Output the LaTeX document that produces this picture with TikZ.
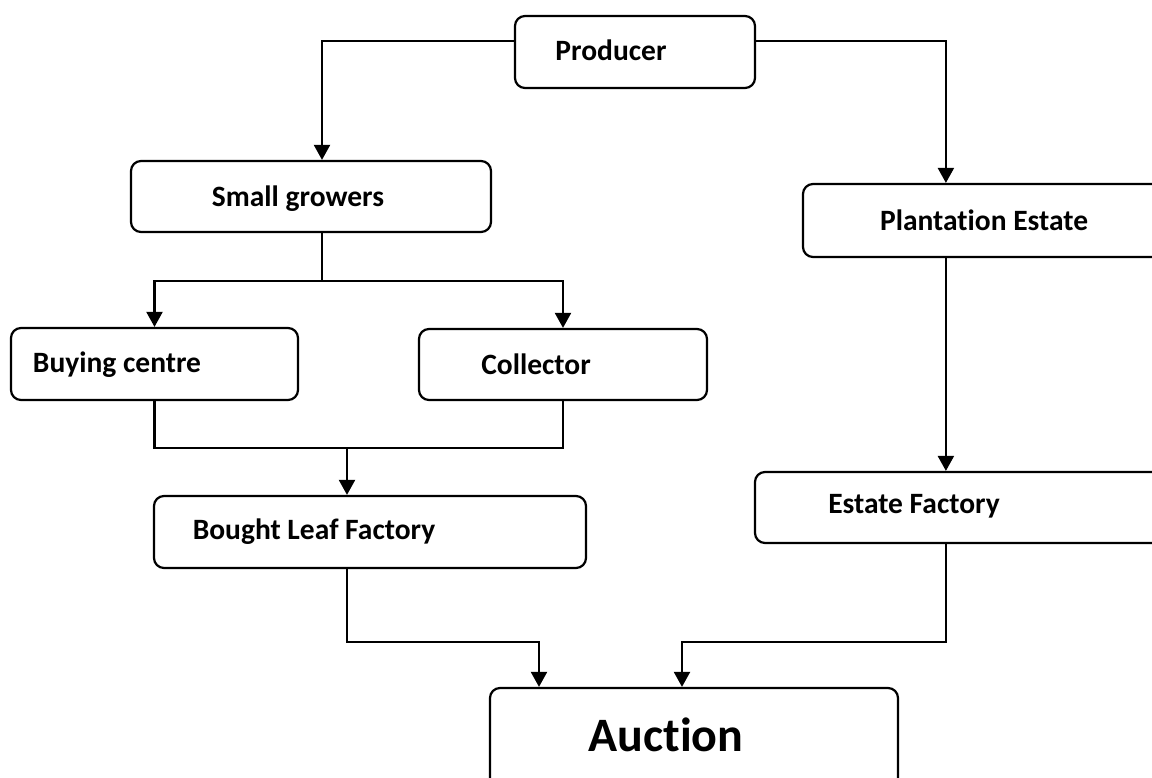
\documentclass[tikz,border=0pt]{standalone}
\usepackage{fontspec}
\setmainfont{Carlito}[Ligatures=NoCommon]
\usetikzlibrary{arrows.meta}
\begin{document}
\begin{tikzpicture}[x=1pt,y=-1pt,
  box/.style={draw=black,line width=2.2pt,rounded corners=10pt,inner sep=0pt,fill=white},
  lbl/.style={font=\fontsize{29.5}{34}\selectfont\bfseries,inner sep=0pt},
  biglbl/.style={font=\fontsize{48}{54}\selectfont\bfseries,inner sep=0pt},
  conn/.style={line width=2.2pt},
  arr/.style={conn,-{Triangle[length=15pt,width=16pt]}}]
\useasboundingbox (0,0) rectangle (1152,778);
\clip (0,0) rectangle (1152,778);
% boxes
\node[box,minimum width=240pt,minimum height=72pt] (prod) at (635,52) {};
\node[box,minimum width=360pt,minimum height=71pt] (small) at (311,196.5) {};
\node[box,minimum width=380pt,minimum height=73pt] (plant) at (993,220.5) {};
\node[box,minimum width=287pt,minimum height=72pt] (buy) at (154.5,364) {};
\node[box,minimum width=288pt,minimum height=71pt] (coll) at (563,364.5) {};
\node[box,minimum width=432pt,minimum height=72pt] (blf) at (370,532) {};
\node[box,minimum width=420pt,minimum height=71pt] (ef) at (965,507.5) {};
\node[box,minimum width=408pt,minimum height=120pt] (auc) at (694,748) {};
% labels
\node[lbl] (tprod) at (611,50) {Producer};
\node[lbl] (tsmall) at (298,199) {Small growers};
\node[lbl] (tplant) at (984,220) {Plantation Estate};
\node[lbl] (tbuy) at (117,365) {Buying centre};
\node[lbl] (tcoll) at (536,364) {Collector};
\node[lbl] (tblf) at (314,532) {Bought Leaf Factory};
\node[lbl] (tef) at (914,506) {Estate Factory};
\node[biglbl] (tauc) at (666,735) {Auction};
% junctions
\coordinate (sj) at (322,281);
\coordinate (cj) at (347,448);
% connectors
\draw[arr] ([yshift=-26pt]prod.north west) -| ([xshift=11pt]small.north);
\draw[arr] ([yshift=-26pt]prod.north east) -| ([xshift=144pt]plant.north west);
\draw[conn] ([xshift=11pt]small.south) -- (sj);
\draw[arr] (sj) -| (buy.north);
\draw[arr] (sj) -| (coll.north);
\draw[conn] (buy.south) |- (cj) -| (coll.south);
\draw[arr] (cj) -- (blf.north -| cj);
\draw[arr] ([xshift=144pt]plant.south west) -- ([xshift=192pt]ef.north west);
\draw[arr] ([xshift=-23pt]blf.south) -- ++(0,73) -| ([xshift=-155pt]auc.north);
\draw[arr] ([xshift=192pt]ef.south west) -- ++(0,98) -| ([xshift=-12pt]auc.north);
\end{tikzpicture}
\end{document}
